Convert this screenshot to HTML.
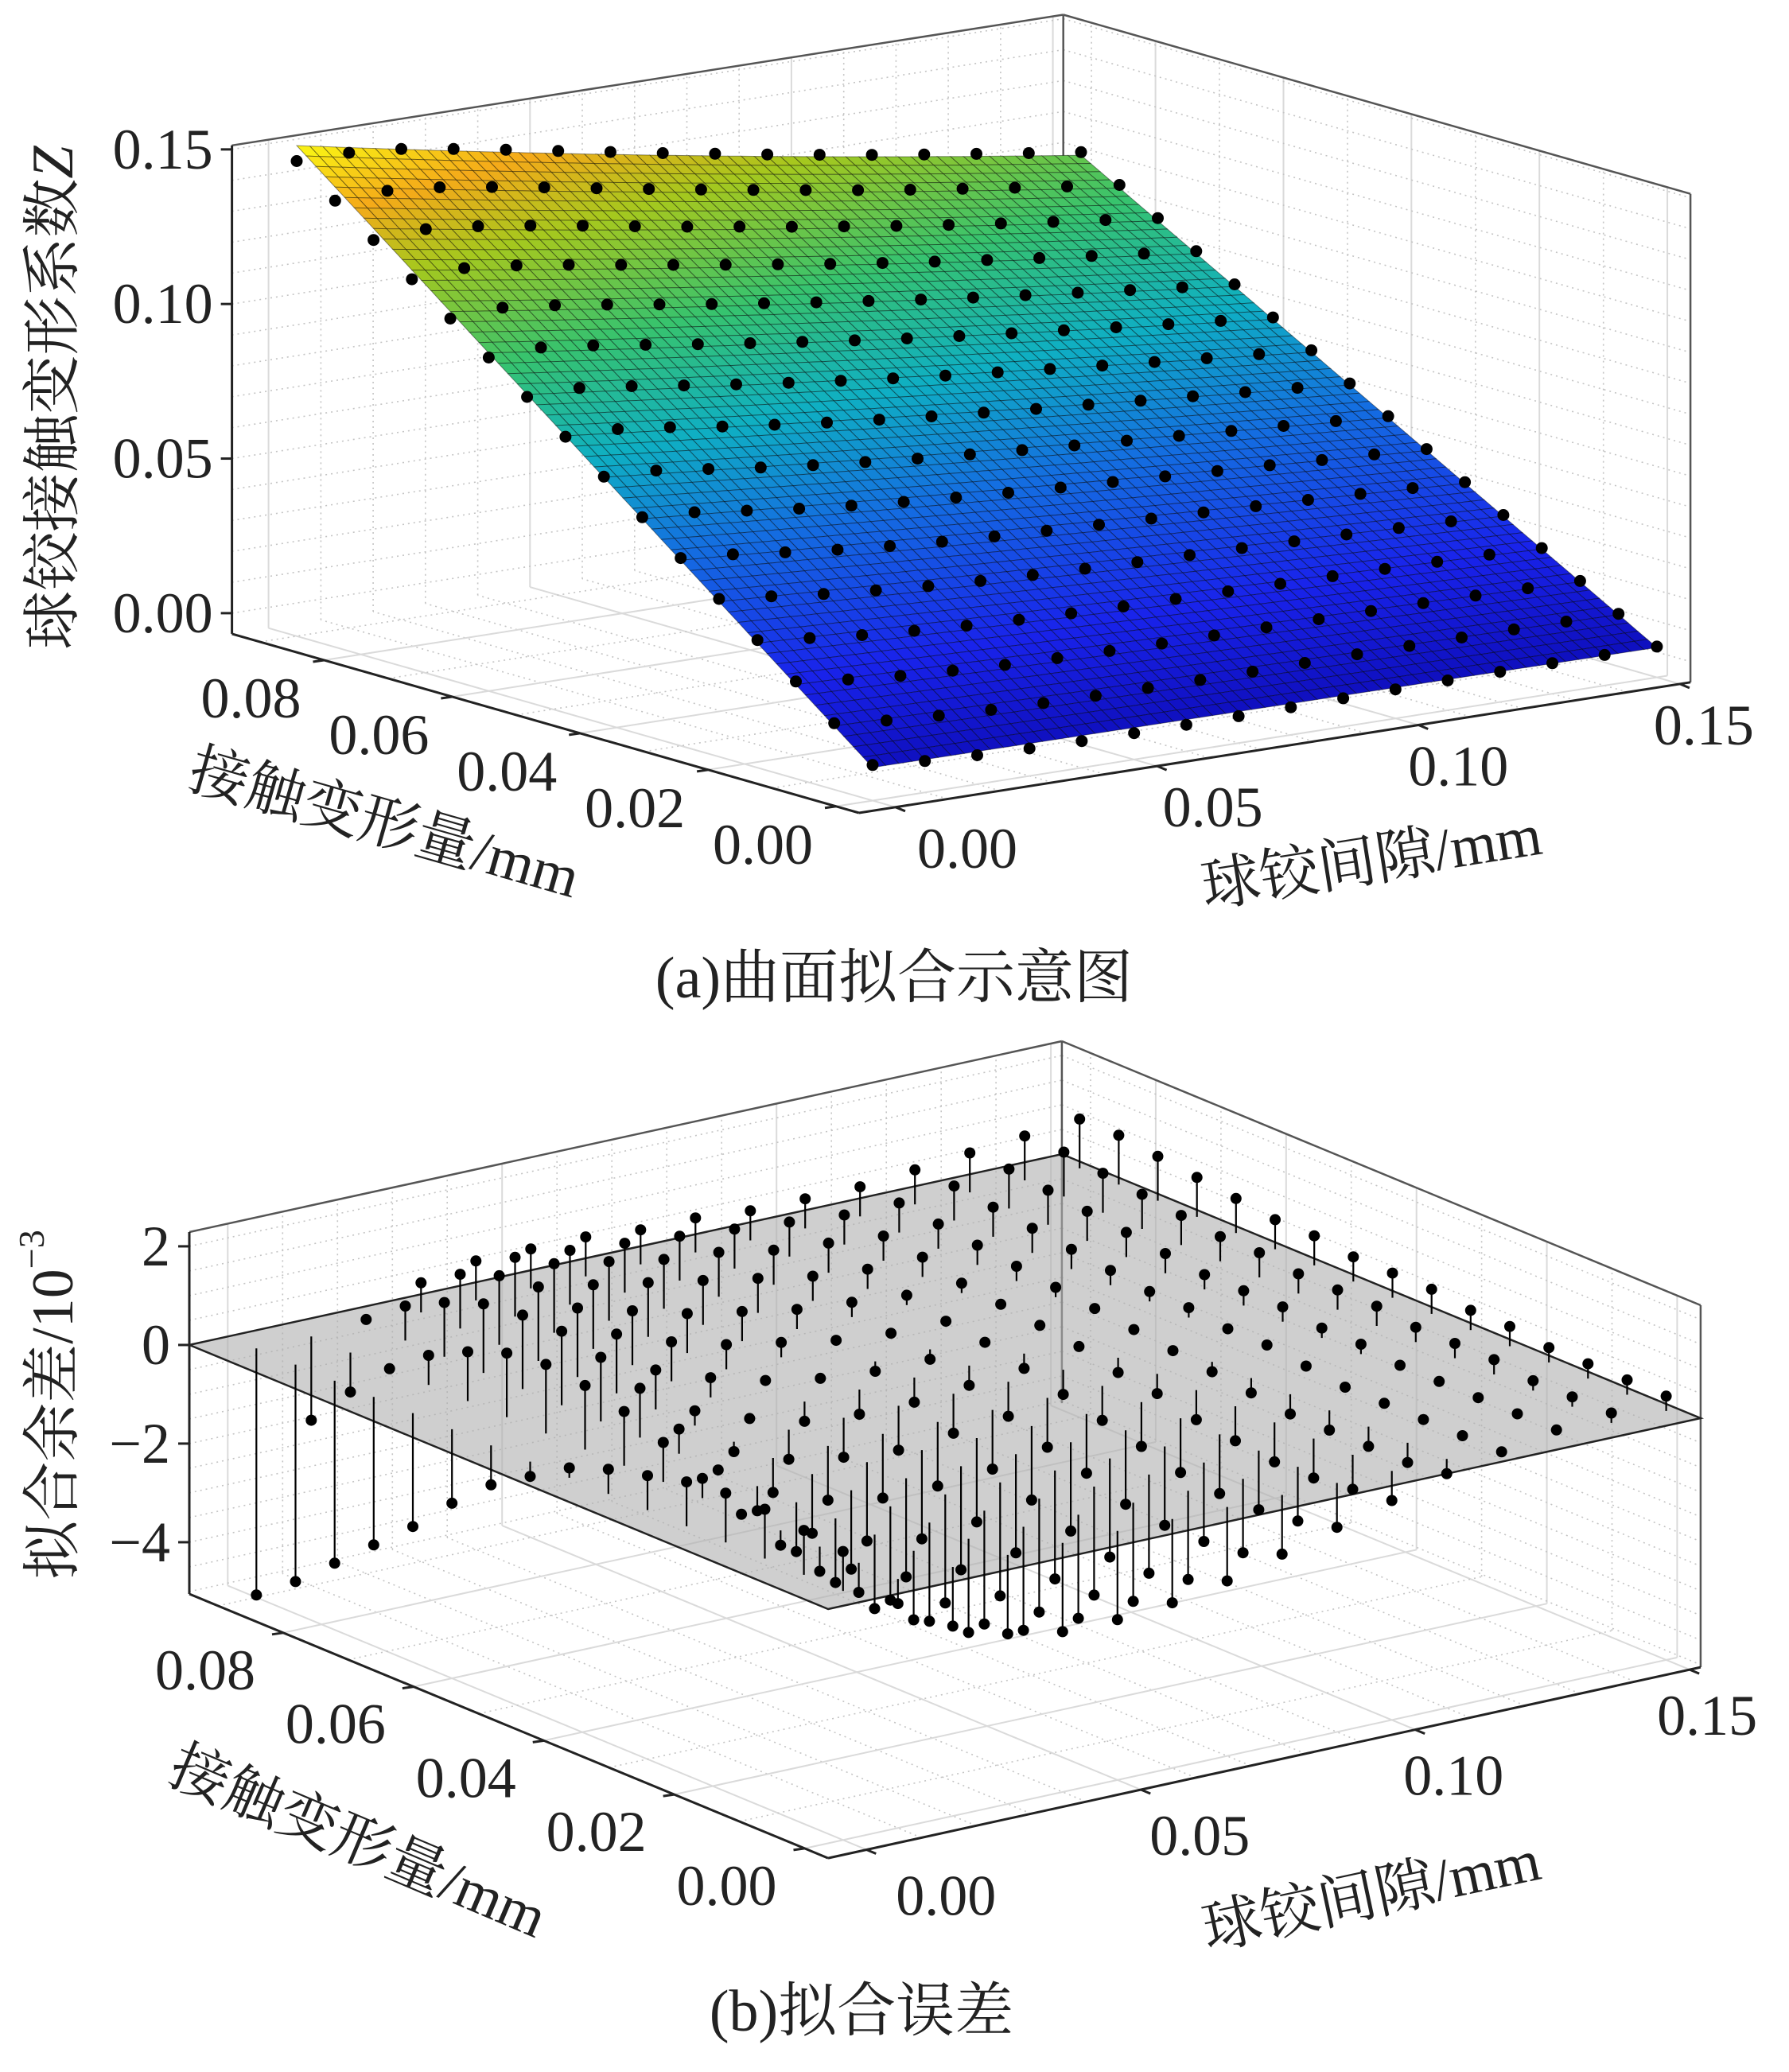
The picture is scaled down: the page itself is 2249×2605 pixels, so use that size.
<!DOCTYPE html>
<html><head><meta charset="utf-8">
<style>
html,body{margin:0;padding:0;background:#fff;}
svg{display:block;}
text{font-family:"Liberation Serif","Noto Serif CJK SC",serif;fill:#222;}
</style></head>
<body>
<svg id="fig" width="2249" height="2605" viewBox="0 0 2249 2605" xmlns="http://www.w3.org/2000/svg">
<rect x="0" y="0" width="2249" height="2605" fill="#fff"/>
<g id="panelA"></g>
<g id="panelB"></g>
<text x="67" y="500" font-size="74" text-anchor="middle" dominant-baseline="central" transform="rotate(-90 67 500)">球铰接触变形系数<tspan font-style="italic">Z</tspan></text>
<text x="483" y="1036" font-size="74" text-anchor="middle" dominant-baseline="central" transform="rotate(16 483 1036)">接触变形量/mm</text>
<text x="1724" y="1083" font-size="74" text-anchor="middle" dominant-baseline="central" transform="rotate(-9 1724 1083)">球铰间隙/mm</text>
<text x="1124" y="1230" font-size="74" text-anchor="middle" dominant-baseline="central">(a)曲面拟合示意图</text>
<text x="67" y="1766" font-size="74" text-anchor="middle" dominant-baseline="central" transform="rotate(-90 67 1766)">拟合余差/10<tspan font-size="46" dy="-28">−3</tspan></text>
<text x="450" y="2316" font-size="74" text-anchor="middle" dominant-baseline="central" transform="rotate(23 450 2316)">接触变形量/mm</text>
<text x="1724" y="2383" font-size="74" text-anchor="middle" dominant-baseline="central" transform="rotate(-12 1724 2383)">球铰间隙/mm</text>
<text x="1083" y="2529" font-size="74" text-anchor="middle" dominant-baseline="central">(b)拟合误差</text>
</svg>
<script>
const gapValues=[0,0.01,0.02,0.03,0.04,0.05,0.06,0.07,0.08,0.09,0.10,0.11,0.12,0.13,0.14,0.15];
const defValues=[0,0.006,0.012,0.018,0.024,0.03,0.036,0.042,0.048,0.054,0.06,0.066,0.072,0.078,0.084,0.09];
const fitCoeffs=[0.004,-0.007,1.644,-3.6,3.3];
const residuals=[
[0.8,-0.5,-1.2,-1.6,-1.8,-1.8,-1.7,-1.5,-1.2,-0.9,-0.6,-0.3,-0.1,0.1,0.2,0.3],
[0.9,-0.6,-1.4,-1.9,-2.1,-2.1,-2.0,-1.8,-1.5,-1.1,-0.7,-0.4,-0.1,0.1,0.2,0.3],
[1.0,-0.5,-1.5,-2.0,-2.3,-2.3,-2.2,-2.0,-1.6,-1.2,-0.8,-0.4,-0.1,0.1,0.2,0.3],
[1.0,-0.3,-1.3,-1.9,-2.2,-2.3,-2.2,-2.0,-1.6,-1.2,-0.8,-0.4,-0.1,0.1,0.3,0.3],
[0.9,0.0,-1.0,-1.6,-2.0,-2.1,-2.0,-1.8,-1.5,-1.1,-0.7,-0.4,-0.1,0.1,0.3,0.4],
[0.7,0.4,-0.5,-1.2,-1.6,-1.8,-1.7,-1.5,-1.2,-0.9,-0.6,-0.3,0.0,0.2,0.3,0.4],
[0.5,0.8,0.0,-0.7,-1.1,-1.3,-1.3,-1.2,-1.0,-0.7,-0.4,-0.2,0.1,0.2,0.4,0.5],
[0.2,1.1,0.5,-0.2,-0.6,-0.8,-0.9,-0.8,-0.7,-0.5,-0.3,-0.1,0.1,0.3,0.4,0.5],
[-0.3,1.3,1.0,0.3,-0.1,-0.4,-0.5,-0.5,-0.4,-0.3,-0.1,0.0,0.2,0.3,0.4,0.5],
[-0.8,1.4,1.3,0.8,0.4,0.1,-0.1,-0.2,-0.2,-0.1,0.0,0.1,0.2,0.3,0.5,0.6],
[-1.5,1.3,1.5,1.2,0.8,0.5,0.3,0.1,0.0,0.0,0.1,0.2,0.3,0.4,0.5,0.6],
[-2.3,1.0,1.5,1.4,1.1,0.8,0.6,0.4,0.3,0.2,0.2,0.3,0.4,0.5,0.6,0.7],
[-3.0,0.6,1.4,1.5,1.3,1.1,0.9,0.7,0.5,0.4,0.4,0.4,0.5,0.6,0.7,0.8],
[-3.7,0.0,1.1,1.4,1.4,1.2,1.0,0.9,0.7,0.6,0.5,0.5,0.6,0.7,0.8,0.9],
[-4.4,-0.8,0.7,1.1,1.2,1.1,1.0,0.9,0.8,0.7,0.6,0.6,0.7,0.8,0.9,1.0],
[-5.0,-1.7,0.1,0.6,0.8,0.8,0.8,0.7,0.7,0.6,0.6,0.6,0.7,0.8,0.9,1.0]];
const gapTicks=[0,0.05,0.10,0.15];
const gapTickLabels=['0.00','0.05','0.10','0.15'];
const defTicks=[0,0.02,0.04,0.06,0.08];
const defTickLabels=['0.00','0.02','0.04','0.06','0.08'];
const zTicksA=[0,0.05,0.10,0.15];
const zTickLabelsA=['0.00','0.05','0.10','0.15'];
const zTicksB=[-4,-2,0,2];
const zTickLabelsB=['−4','−2','0','2'];

const NS='http://www.w3.org/2000/svg';
function mk(parent,tag,attrs){const el=document.createElementNS(NS,tag);for(const k in attrs)el.setAttribute(k,attrs[k]);parent.appendChild(el);return el;}
const G0=-0.007,G1=0.152,D0=-0.0036,D1=0.0944;
const PA={X0:1097,a:6573,b:-8044,Y0:980.5,c:-1033,e:-2297,k:3887,z0:-0.0067,z1:0.1513,zMinorStep:0.01};
const PB={X0:1059.8,a:6899,b:-8194,Y0:2000.2,c:-1509,e:-3388,k:62,z0:-5.05,z1:2.29,zMinorStep:0.5};
function P(p,g,d,z){return [p.X0+p.a*g+p.b*d, p.Y0+p.c*g+p.e*d-p.k*z];}
function line(parent,p,A,B,style,name){const a=P(p,...A),b=P(p,...B);const l=mk(parent,'line',Object.assign({x1:a[0].toFixed(1),y1:a[1].toFixed(1),x2:b[0].toFixed(1),y2:b[1].toFixed(1)},style));


return l;}
function fitZ(g,d){const c=fitCoeffs;return c[0]+c[1]*g+d*(c[2]+c[3]*g+c[4]*g*g);}

function drawFrame(parent,p){
  const minor={stroke:'#c4c4c4','stroke-width':1.6,'stroke-dasharray':'2 5'};
  const major={stroke:'#dadada','stroke-width':2};
  for(let g=0;g<=0.1501;g+=0.01){const mj=Math.abs(g/0.05-Math.round(g/0.05))<1e-6;
    line(parent,p,[g,D0,p.z0],[g,D1,p.z0],mj?major:minor,'floor-grid-gap');
    line(parent,p,[g,D1,p.z0],[g,D1,p.z1],mj?major:minor,'wall-grid-gap');}
  for(let d=0;d<=0.0901;d+=0.01){const mj=Math.abs(d/0.02-Math.round(d/0.02))<1e-6;
    line(parent,p,[G0,d,p.z0],[G1,d,p.z0],mj?major:minor,'floor-grid-def');
    line(parent,p,[G1,d,p.z0],[G1,d,p.z1],mj?major:minor,'wall-grid-def');}
  for(let z=Math.ceil(p.z0/p.zMinorStep)*p.zMinorStep;z<=p.z1;z+=p.zMinorStep){
    line(parent,p,[G0,D1,z],[G1,D1,z],minor,'wall-grid-z');
    line(parent,p,[G1,D1,z],[G1,D0,z],minor,'wall-grid-z');}
  const box={stroke:'#555','stroke-width':2.5};
  line(parent,p,[G1,D1,p.z0],[G1,D1,p.z1],box,'box-edge');
  line(parent,p,[G1,D0,p.z0],[G1,D0,p.z1],box,'box-edge');
  line(parent,p,[G0,D1,p.z1],[G1,D1,p.z1],box,'box-edge');
  line(parent,p,[G1,D1,p.z1],[G1,D0,p.z1],box,'box-edge');
}
function drawAxes(parent,p,zTicks,zLabels,gOff,gSlope,dOff){
  const ax={stroke:'#222','stroke-width':3};
  line(parent,p,[G0,D1,p.z0],[G0,D1,p.z1],ax,'z-axis-line');
  line(parent,p,[G0,D1,p.z0],[G0,D0,p.z0],ax,'deformation-axis-line');
  line(parent,p,[G0,D0,p.z0],[G1,D0,p.z0],ax,'gap-axis-line');
  zTicks.forEach((z,i)=>{const q=P(p,G0,D1,z);
    const t=mk(parent,'line',{x1:q[0]-14,y1:q[1],x2:q[0],y2:q[1],stroke:'#222','stroke-width':3});
    
    
    const tx=mk(parent,'text',{x:q[0]-24,y:q[1],'font-size':72,'text-anchor':'end','dominant-baseline':'central'});tx.textContent=zLabels[i];
    
    });
  gapTicks.forEach((g,i)=>{const q=P(p,g,D0,p.z0);
    const t=mk(parent,'line',{x1:q[0],y1:q[1],x2:q[0]+12,y2:q[1]+5,stroke:'#222','stroke-width':3});
    
    
    const tx=mk(parent,'text',{x:q[0]+gOff[0]-gSlope*g,y:q[1]+gOff[1],'font-size':72,'text-anchor':'middle','dominant-baseline':'central'});tx.textContent=gapTickLabels[i];
    
    });
  defTicks.forEach((d,i)=>{const q=P(p,G0,d,p.z0);
    const t=mk(parent,'line',{x1:q[0],y1:q[1],x2:q[0]-14,y2:q[1]+2,stroke:'#222','stroke-width':3});
    
    
    const tx=mk(parent,'text',{x:q[0]+dOff[0],y:q[1]+dOff[1],'font-size':72,'text-anchor':'middle','dominant-baseline':'central'});tx.textContent=defTickLabels[i];
    
    });
}
const cmap=[[0,[15,15,190]],[0.15,[25,35,235]],[0.35,[20,110,225]],[0.5,[15,175,195]],[0.65,[55,195,110]],[0.8,[165,200,30]],[0.9,[245,170,25]],[1,[250,248,20]]];
function color(t){t=Math.max(0,Math.min(1,t));for(let i=1;i<cmap.length;i++){if(t<=cmap[i][0]){const a=cmap[i-1],b=cmap[i];const f=(t-a[0])/(b[0]-a[0]);
  return 'rgb('+a[1].map((v,k)=>Math.round(v+(b[1][k]-v)*f)).join(',')+')';}}return 'rgb(250,248,20)';}

// Panel A
const A=document.getElementById('panelA');
drawFrame(A,PA);
const surf=mk(A,'g',{});


const N=60,gS=gapValues[gapValues.length-1],dS=defValues[defValues.length-1];
const zLo=fitZ(gS,0),zHi=fitZ(0,dS);
for(let i=N-1;i>=0;i--){for(let j=N-1;j>=0;j--){
  const g0=gS*i/N,g1=gS*(i+1)/N,d0=dS*j/N,d1=dS*(j+1)/N;
  const pts=[[g0,d0],[g1,d0],[g1,d1],[g0,d1]].map(q=>P(PA,q[0],q[1],fitZ(q[0],q[1])));
  const zm=fitZ((g0+g1)/2,(d0+d1)/2);
  const poly=mk(surf,'polygon',{points:pts.map(q=>q[0].toFixed(1)+','+q[1].toFixed(1)).join(' '),fill:color((zm-zLo)/(zHi-zLo)),stroke:'rgba(0,0,0,0.42)','stroke-width':1});
  
  
}}
defValues.forEach((d,j)=>gapValues.forEach((g,i)=>{
  const q=P(PA,g,d,fitZ(g,d)+residuals[j][i]*1e-3);
  const c=mk(A,'circle',{cx:q[0].toFixed(1),cy:q[1].toFixed(1),r:7.5,fill:'#000'});
  
  
}));
drawAxes(A,PA,zTicksA,zTickLabelsA,[90,52],400,[-92,48]);

// Panel B
const B=document.getElementById('panelB');
drawFrame(B,PB);
const pc=[[G0,D0],[G1,D0],[G1,D1],[G0,D1]].map(q=>P(PB,q[0],q[1],0));
const plane=mk(B,'polygon',{points:pc.map(q=>q[0].toFixed(1)+','+q[1].toFixed(1)).join(' '),fill:'rgba(175,175,175,0.6)',stroke:'#222','stroke-width':2.5});


const order=[];defValues.forEach((d,j)=>gapValues.forEach((g,i)=>order.push([i,j])));
order.sort((u,v)=>(v[0]/15+v[1]/15)-(u[0]/15+u[1]/15));
order.forEach(([i,j])=>{const g=gapValues[i],d=defValues[j],r=residuals[j][i];
  const a=P(PB,g,d,0),b=P(PB,g,d,r);
  const s=mk(B,'line',{x1:a[0].toFixed(1),y1:a[1].toFixed(1),x2:b[0].toFixed(1),y2:b[1].toFixed(1),stroke:'#000','stroke-width':2.2});
  
  
  const c=mk(B,'circle',{cx:b[0].toFixed(1),cy:b[1].toFixed(1),r:7,fill:'#000'});
  
  
});
drawAxes(B,PB,zTicksB,zTickLabelsB,[100,58],520,[-98,47]);
</script>
</body></html>
